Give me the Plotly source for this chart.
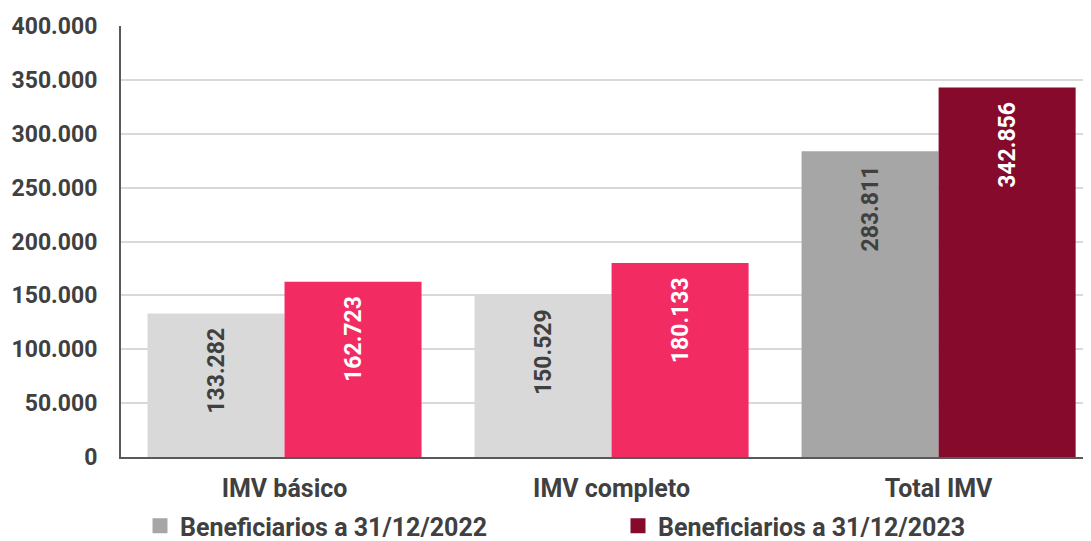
import plotly.graph_objects as go

categories = ["IMV básico", "IMV completo", "Total IMV"]
series_names = ["Beneficiarios a 31/12/2022", "Beneficiarios a 31/12/2023"]
values_2022 = [133282, 150529, 283811]
values_2023 = [162723, 180133, 342856]
colors_2022 = ["#D9D9D9", "#D9D9D9", "#A6A6A6"]
colors_2023 = ["#F22C63", "#F22C63", "#850A2B"]
text_colors_2022 = ["#404040", "#404040", "#404040"]
text_colors_2023 = ["#FFFFFF", "#FFFFFF", "#FFFFFF"]
legend_colors = ["#A6A6A6", "#850A2B"]
y_ticks = [0, 50000, 100000, 150000, 200000, 250000, 300000, 350000, 400000]

FONT = "Roboto, 'Liberation Sans', Arial, sans-serif"
PAD = "\u00a0\u00a0"

# page body has an 8px default margin, so the figure is sized to fit the window
W, H = 1083, 533

fig = go.Figure()
for vals, cols, tcols in [(values_2022, colors_2022, text_colors_2022),
                          (values_2023, colors_2023, text_colors_2023)]:
    fig.add_trace(go.Bar(
        x=categories, y=vals,
        marker=dict(color=cols, line=dict(width=0)),
        texttemplate="%{y:,.0f}" + PAD,
        textposition="inside",
        insidetextanchor="end",
        textangle=-90,
        insidetextfont=dict(family=FONT, size=23, color=tcols, weight="bold"),
        showlegend=False,
        hoverinfo="skip",
    ))

legend_ids = ["legend", "legend2"]
for name, col, lid in zip(series_names, legend_colors, legend_ids):
    fig.add_trace(go.Scatter(
        x=[None], y=[None], mode="markers", name=name, legend=lid,
        marker=dict(symbol="square", size=15, color=col),
    ))

legend_style = dict(
    orientation="h", xref="container", yref="container",
    y=15 / H, xanchor="left", yanchor="middle",
    font=dict(family=FONT, size=25, color="#404040", weight="bold"),
    itemwidth=30, bgcolor="rgba(0,0,0,0)",
)

fig.update_layout(
    width=W, height=H,
    margin=dict(l=113, r=0, t=18, b=84, autoexpand=False),
    paper_bgcolor="white", plot_bgcolor="white",
    barmode="group", bargap=0.162, bargroupgap=0,
    separators=",.",
    font=dict(family=FONT, color="#404040"),
    showlegend=True,
    legend=dict(x=132 / W, **legend_style),
    legend2=dict(x=610 / W, **legend_style),
    xaxis=dict(
        range=[-0.5, 2.466],
        showgrid=False, showline=True, linecolor="#595959", linewidth=2,
        ticks="", ticklabelstandoff=8, automargin=False,
        tickfont=dict(family=FONT, size=25, color="#404040", weight="bold"),
        fixedrange=True,
    ),
    yaxis=dict(
        range=[0, 400000], tickvals=y_ticks, tickformat=",.0f",
        showgrid=True, gridcolor="#D9D9D9", gridwidth=2,
        showline=True, linecolor="#595959", linewidth=2,
        zeroline=False, ticks="", ticklabelstandoff=17, automargin=False,
        tickfont=dict(family=FONT, size=23, color="#404040", weight="bold"),
        fixedrange=True,
    ),
)

fig.write_html("out.html")
